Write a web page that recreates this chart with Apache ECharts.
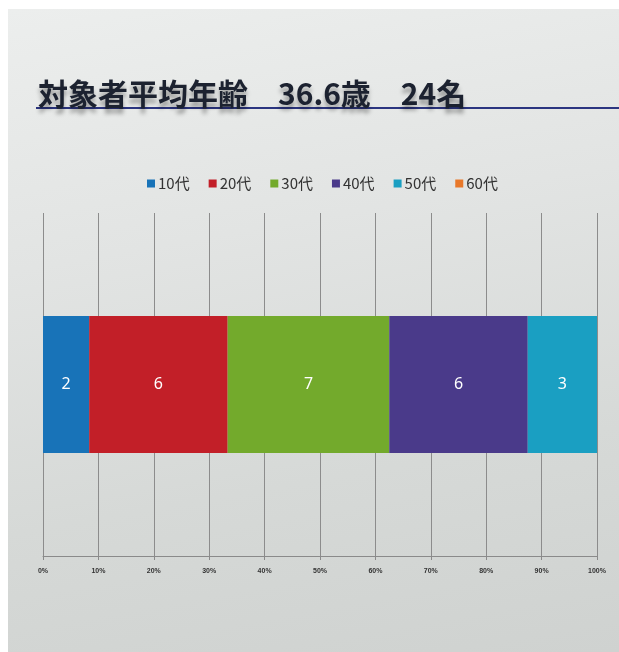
<!DOCTYPE html>
<html><head><meta charset="utf-8">
<script src="https://cdn.jsdelivr.net/npm/echarts@6/dist/echarts.min.js"></script>
<style>
html,body{margin:0;padding:0;background:#fff;}
#wrap{position:absolute;left:8px;top:9px;width:611px;height:643px;
background:linear-gradient(170deg,#eceeed 0%,#e2e4e3 35%,#d6d9d7 70%,#cfd2d0 100%);}
#chart{position:absolute;left:0;top:0;width:619px;height:652px;}
</style></head>
<body><div id="wrap"></div><div id="chart"></div>
<script>
const categories = ['対象者'];
const seriesNames = ['10代','20代','30代','40代','50代','60代'];
const counts = [2, 6, 7, 6, 3, 0];
const colors = ['#1873b8','#c21f28','#73aa2c','#4a3a8a','#1a9fc2','#e8782a'];
const tickLabels = ['0%','10%','20%','30%','40%','50%','60%','70%','80%','90%','100%'];
const titleText = '対象者平均年齢　36.6歳　24名';

const total = counts.reduce((a,b)=>a+b,0);
const chart = echarts.init(document.getElementById('chart'));
chart.setOption({
  backgroundColor:'transparent',
  graphic:[{type:'line',shape:{x1:36,y1:108,x2:619,y2:108},style:{stroke:'#2b3580',lineWidth:2},z:1}],
  title:{text:titleText,left:33,top:74,
    textStyle:{fontFamily:'Noto Sans CJK JP',fontWeight:'bold',fontSize:30,color:'#1c2230',
      textShadowColor:'rgba(0,0,0,0.35)',textShadowBlur:4,textShadowOffsetY:5},z:5},
  legend:{top:171,left:142,itemWidth:8,itemHeight:8,itemGap:19,icon:'rect',
    textStyle:{fontFamily:'Noto Sans CJK JP',fontSize:15,color:'#333',padding:[0,0,0,-2]},
    data:seriesNames},
  grid:{left:43,right:22,top:213,bottom:96,containLabel:false},
  xAxis:{type:'value',min:0,max:100,interval:10,
    axisLine:{show:true,lineStyle:{color:'#8a8a8a',width:1}},
    axisTick:{show:true,length:4,lineStyle:{color:'#8a8a8a'}},
    splitLine:{show:true,lineStyle:{color:'#8c8c8c',width:1}},
    axisLabel:{fontSize:7,color:'#333',margin:12,fontWeight:'bold',
      formatter:(v)=>tickLabels[Math.round(v/10)]}},
  yAxis:{type:'category',data:categories,axisLine:{show:false},axisTick:{show:false},axisLabel:{show:false}},
  series: seriesNames.map((n,i)=>({
    name:n,type:'bar',stack:'total',barWidth:137,
    itemStyle:{color:colors[i]},
    label:{show:counts[i]>0,position:'inside',color:'#fff',fontSize:16,fontFamily:'Noto Sans',
      formatter:()=>String(counts[i])},
    data:[counts[i]/total*100]
  }))
});
</script></body></html>
